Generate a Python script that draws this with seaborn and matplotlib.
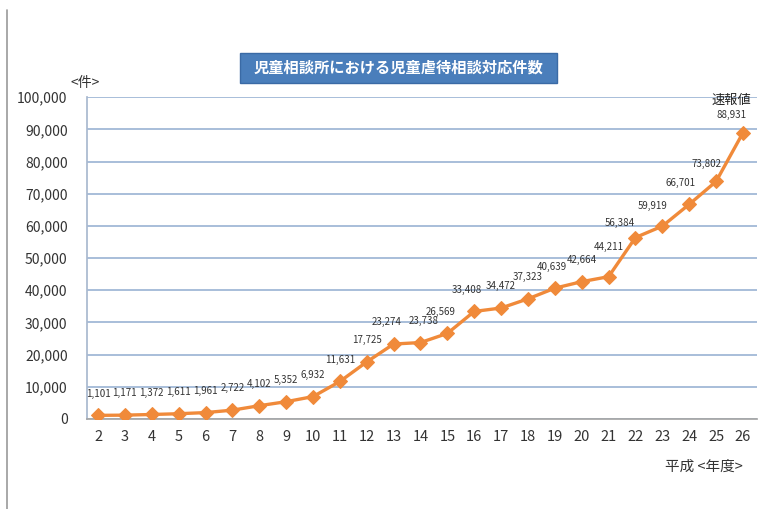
import numpy as np
import pandas as pd
import seaborn as sns
import matplotlib.pyplot as plt
from matplotlib.patches import Rectangle
from matplotlib.lines import Line2D

# 平成 fiscal years and consultation counts
years = [2, 3, 4, 5, 6, 7, 8, 9, 10, 11, 12, 13, 14, 15, 16, 17, 18, 19, 20, 21, 22, 23, 24, 25, 26]
counts = [1101, 1171, 1372, 1611, 1961, 2722, 4102, 5352, 6932, 11631, 17725, 23274, 23738, 26569,
          33408, 34472, 37323, 40639, 42664, 44211, 56384, 59919, 66701, 73802, 88931]
title = "児童相談所における児童虐待相談対応件数"
y_unit = "<件>"
x_unit = "平成 <年度>"
note = "速報値"

sns.set_theme(style="white")
plt.rcParams['font.family'] = ['Liberation Sans Narrow', 'Noto Sans CJK JP', 'DejaVu Sans']

orange = "#F08A3A"
grid_col = "#9AB3D3"
cjk = ['Noto Sans CJK JP', 'DejaVu Sans']

df = pd.DataFrame({"year": years, "count": counts})

fig = plt.figure(figsize=(7.7, 5.09), dpi=100)
ax = fig.add_axes([0.113, 0.177, 0.870, 0.632])

sns.lineplot(data=df, x="year", y="count", ax=ax, color=orange, linewidth=2.4,
             marker="D", markersize=7, markeredgecolor=orange, zorder=3)

ax.set_xlim(1.59, 26.52)
ax.set_ylim(0, 100000)
ax.set_xticks(years)
ax.set_xticklabels([str(y) for y in years], fontsize=10.5, color="#333333")
ax.set_yticks(np.arange(0, 100001, 10000))
ax.set_yticklabels([f"{v:,}" for v in range(0, 100001, 10000)], fontsize=10, color="#333333")
ax.tick_params(axis="y", length=0, pad=14)
ax.tick_params(axis="x", length=0, pad=8)
ax.set_xlabel("")
ax.set_ylabel("")
ax.grid(axis="y", color=grid_col, linewidth=1.2)
ax.set_axisbelow(True)
for s in ["top", "right"]:
    ax.spines[s].set_visible(False)
ax.spines["left"].set_color("#A9B9CF")
ax.spines["bottom"].set_color("#A6A6A6")

# data labels (nudges where the reference shifts them)
nudge = {13: (-5, 12), 14: (2, 12), 15: (-5, 12), 16: (-5, 12), 19: (-2, 12),
         21: (0, 18), 22: (-11, 7), 23: (-7, 11), 24: (-6, 12), 25: (-7, 9), 26: (-8, 9)}
for x, y in zip(years, counts):
    dx, dy = nudge.get(x, (0, 12))
    ax.annotate(f"{y:,}", (x, y), xytext=(dx, dy), textcoords="offset points",
                ha="center", va="bottom", fontsize=7, color="#333333")

ax.annotate(note, (26, 100000), xytext=(-8, -2), textcoords="offset points",
            ha="center", va="center", fontsize=9.5, color="#222222", family=cjk)

fig.text(85 / 770, 1 - 83 / 509, y_unit, ha="center", va="center", fontsize=10,
         color="#333333", family=cjk)
fig.text(704 / 770, 1 - 467 / 509, x_unit, ha="center", va="center", fontsize=10.5,
         color="#333333", family=cjk)

# title box
fig.patches.append(Rectangle((240 / 770, 1 - 83 / 509), 317 / 770, 30 / 509,
                             transform=fig.transFigure, facecolor="#4A7EBB",
                             edgecolor="#3A6AA5", zorder=1))
fig.text(398 / 770, 1 - 68 / 509, title, ha="center", va="center", fontsize=11,
         color="white", fontweight="bold", family=cjk)

# left page border
fig.add_artist(Line2D([7 / 770, 7 / 770], [0.0, 0.98], transform=fig.transFigure,
                      color="#999999", linewidth=1.2))

fig.savefig("out.png", dpi=100, facecolor="white")
